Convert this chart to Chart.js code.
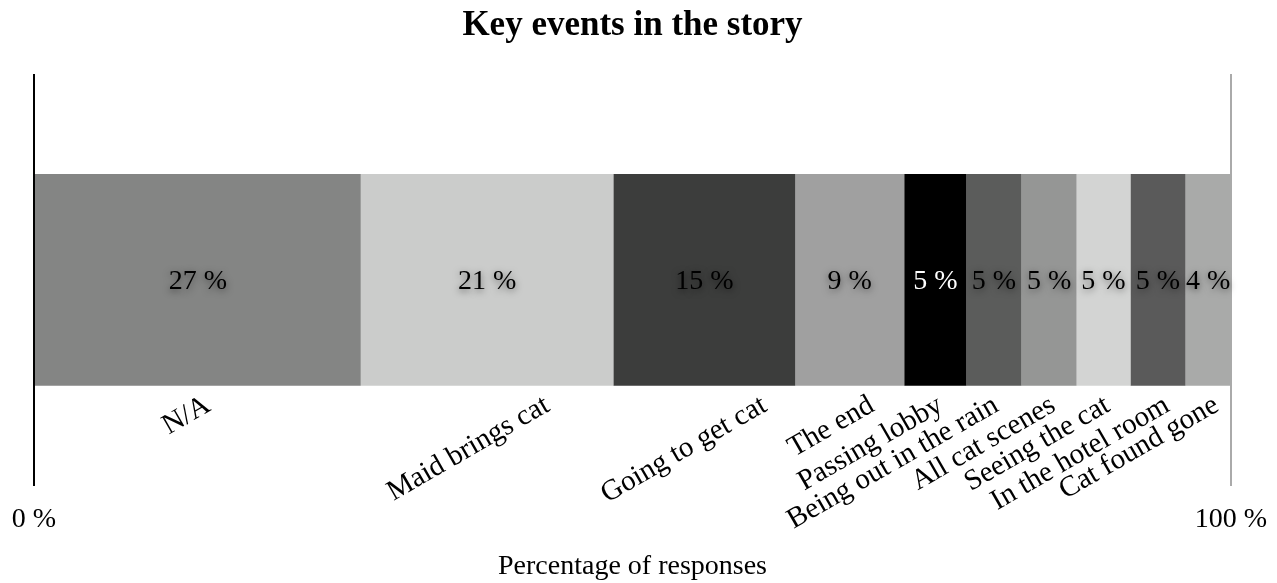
<!DOCTYPE html>
<html>
<head>
<meta charset="utf-8">
<script src="https://cdn.jsdelivr.net/npm/chart.js@4"></script>
<style>
  html, body { margin: 0; padding: 0; background: #fff; }
  #wrap { width: 1277px; height: 583px; }
</style>
</head>
<body>
<div id="wrap"><canvas id="eventsChart" width="1277" height="583"></canvas></div>
<script>
const events = ['N/A', 'Maid brings cat', 'Going to get cat', 'The end', 'Passing lobby',
  'Being out in the rain', 'All cat scenes', 'Seeing the cat', 'In the hotel room', 'Cat found gone'];
const shares = [27.3, 21.1, 15.2, 9.1, 5.2, 4.6, 4.6, 4.5, 4.6, 3.8];
const xTicks = [0, 100];

const fills = ['#848584', '#cbcccb', '#3c3d3c', '#a0a0a0', '#000000',
  '#5b5c5b', '#959695', '#d3d4d3', '#5a5a5a', '#a9aaa9'];
const valueInk = ['#000', '#000', '#000', '#000', '#fff', '#000', '#000', '#000', '#000', '#000'];
// how far right of the segment middle each tilted name ends
const nameShift = [3, 53, 53, 15, -2, -5, -3, -3, 2, 1];

const serif = '"Liberation Serif", "Times New Roman", serif';

const segmentLabels = {
  id: 'segmentLabels',
  afterDatasetsDraw(chart) {
    const ctx = chart.ctx;
    chart.data.datasets.forEach((ds, i) => {
      const bar = chart.getDatasetMeta(i).data[0];
      const p = bar.getProps(['x', 'base', 'y', 'height'], true);
      const mid = (p.x + p.base) / 2;

      ctx.save();
      ctx.font = '28px ' + serif;
      ctx.textAlign = 'center';
      ctx.textBaseline = 'middle';
      ctx.shadowColor = 'rgba(0,0,0,0.55)';
      ctx.shadowBlur = 7;
      ctx.shadowOffsetY = 2;
      ctx.fillStyle = valueInk[i];
      ctx.fillText(Math.round(ds.data[0]) + ' %', mid, p.y + 2);
      ctx.restore();

      ctx.save();
      ctx.font = '29px ' + serif;
      ctx.fillStyle = '#000';
      ctx.translate(mid + nameShift[i], p.y + p.height / 2 + 5);
      ctx.rotate(-Math.PI / 6);
      ctx.textAlign = 'right';
      ctx.textBaseline = 'top';
      ctx.fillText(ds.label, 0, 0);
      ctx.restore();
    });
  }
};

new Chart(document.getElementById('eventsChart'), {
  type: 'bar',
  data: {
    labels: [''],
    datasets: events.map((name, i) => ({
      label: name,
      data: [shares[i]],
      backgroundColor: fills[i],
      borderWidth: 0,
      barPercentage: 0.514,
      categoryPercentage: 1
    }))
  },
  options: {
    indexAxis: 'y',
    responsive: false,
    animation: false,
    layout: { padding: { left: 34, right: 46, top: 0, bottom: 0 } },
    plugins: {
      legend: { display: false },
      tooltip: { enabled: false },
      title: {
        display: true,
        text: 'Key events in the story',
        color: '#000',
        font: { family: serif, size: 35, weight: 'bold' },
        padding: { top: 5, bottom: 27 }
      }
    },
    scales: {
      x: {
        stacked: true,
        min: 0,
        max: 100,
        afterBuildTicks: scale => { scale.ticks = xTicks.map(v => ({ value: v })); },
        // the end labels may hang over the plot edges
        afterFit: scale => { scale.paddingLeft = 0; scale.paddingRight = 0; },
        border: { display: false },
        grid: {
          drawTicks: false,
          lineWidth: 2,
          color: c => (c.tick && c.tick.value === 0 ? '#000' : '#aaaaaa')
        },
        ticks: {
          padding: 17,
          color: '#000',
          maxRotation: 0,
          font: { family: serif, size: 28 },
          callback: v => v + ' %'
        },
        title: {
          display: true,
          text: 'Percentage of responses',
          color: '#000',
          font: { family: serif, size: 28 },
          padding: { top: -4, bottom: 0 }
        }
      },
      y: {
        stacked: true,
        display: false
      }
    }
  },
  plugins: [segmentLabels]
});
</script>
</body>
</html>
